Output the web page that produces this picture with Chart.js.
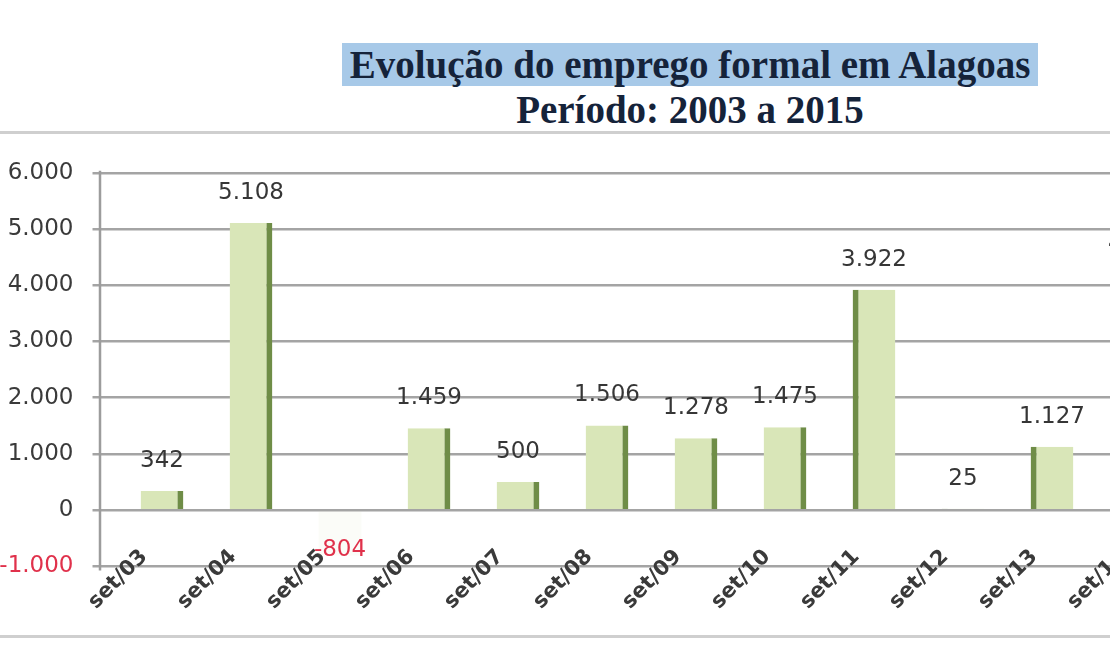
<!DOCTYPE html>
<html>
<head>
<meta charset="utf-8">
<script src="https://cdn.jsdelivr.net/npm/chart.js@4.4.0/dist/chart.umd.min.js"></script>
<style>
  html, body { margin:0; padding:0; width:1110px; height:650px; overflow:hidden; background:#ffffff; }
  .title { position:absolute; left:0; width:1380px; text-align:center;
           font-family:"Liberation Serif","DejaVu Serif",serif; font-weight:bold;
           font-size:39px; color:#15233a; white-space:nowrap; }
  #t1 { top:42px; line-height:46px; }
  #t1 span { background:#a7c9e8; padding:0 8px; }
  #t2 { top:88px; line-height:44px; }
  .frame { position:absolute; left:0; width:1110px; height:3px; background:#cfcfcf; }
  #wrap { position:absolute; left:-8px; top:140px; width:1220px; height:490px; }
</style>
</head>
<body>
<div class="frame" style="top:131px"></div>
<div class="frame" style="top:635px"></div>
<div class="title" id="t1"><span>Evolução do emprego formal em Alagoas</span></div>
<div class="title" id="t2">Período: 2003 a 2015</div>
<div id="wrap"><canvas id="c"></canvas></div>
<script>
// ---- data ----
const categories = ["set/03","set/04","set/05","set/06","set/07","set/08","set/09","set/10","set/11","set/12","set/13","set/14"];
const saldo      = [342, 5108, -804, 1459, 500, 1506, 1278, 1475, 3922, 25, 1127, 4200];
const yTicks     = [-1000, 0, 1000, 2000, 3000, 4000, 5000, 6000];

function fmt(v) {
  const neg = v < 0;
  let s = String(Math.abs(Math.round(v)));
  s = s.replace(/\B(?=(\d{3})+(?!\d))/g, ".");
  return (neg ? "-" : "") + s;
}

const FACE = "#d9e6b8";
const FACE_NEG = "rgba(217,230,184,0.10)";
const SIDE = "#6f8d47";

const decor = {
  id: "decor",
  beforeDatasetsDraw(chart) {
    const { ctx, chartArea } = chart;
    ctx.save();
    ctx.strokeStyle = "#9c9c9c";
    ctx.lineWidth = 2.5;
    const x = chartArea.left - 17.5;
    ctx.beginPath();
    ctx.moveTo(x, chartArea.top - 2);
    ctx.lineTo(x, chartArea.bottom + 4);
    ctx.stroke();
    ctx.restore();
  },
  afterDatasetsDraw(chart) {
    const { ctx } = chart;
    const meta = chart.getDatasetMeta(0);
    ctx.save();
    ctx.font = "23px 'DejaVu Sans', Verdana, sans-serif";
    ctx.textAlign = "center";
    ctx.textBaseline = "middle";
    meta.data.forEach((bar, i) => {
      const v = saldo[i];
      if (v >= 0) {
        ctx.fillStyle = "#363636";
        ctx.fillText(fmt(v), bar.x, bar.y - 30);
      } else {
        ctx.fillStyle = "#e0314b";
        ctx.fillText(fmt(v), bar.x, bar.y - 5);
      }
    });
    ctx.restore();
  }
};

new Chart(document.getElementById("c"), {
  type: "bar",
  data: {
    labels: categories,
    datasets: [{
      data: saldo,
      backgroundColor: (c) => (saldo[c.dataIndex] < 0 ? FACE_NEG : FACE),
      borderColor: SIDE,
      borderWidth: (c) => {
        if (saldo[c.dataIndex] < 0) return 0;
        return c.dataIndex >= 8 ? { left: 6, right: 0, top: 0, bottom: 0 }
                                : { left: 0, right: 6, top: 0, bottom: 0 };
      },
      borderSkipped: false,
      categoryPercentage: 1.0,
      barPercentage: 0.48
    }]
  },
  options: {
    responsive: true,
    maintainAspectRatio: false,
    animation: false,
    layout: { padding: { top: 31.6, right: 26.5, bottom: 0, left: 0 } },
    plugins: { legend: { display: false }, tooltip: { enabled: false }, title: { display: false } },
    scales: {
      x: {
        afterFit: (s) => { s.height = 63.6; },
        grid: { display: false },
        border: { display: false },
        ticks: {
          minRotation: 45, maxRotation: 45,
          mirror: true,
          padding: 4,
          color: "#3a3a3a",
          font: { family: "'DejaVu Sans', Verdana, sans-serif", size: 21, weight: "bold" }
        }
      },
      y: {
        min: -1000, max: 6000,
        afterFit: (s) => { s.width = 125.5; },
        afterBuildTicks: (s) => { s.ticks = yTicks.map(v => ({ value: v })); },
        border: { display: false },
        grid: { color: "#a4a4a4", lineWidth: 2.5, tickLength: 25, drawTicks: true, tickColor: "#a4a4a4" },
        ticks: {
          padding: 19,
          color: (c) => (c.tick && c.tick.value < 0 ? "#e0314b" : "#3a3a3a"),
          font: { family: "'DejaVu Sans', Verdana, sans-serif", size: 23 },
          callback: (v) => fmt(v)
        }
      }
    }
  },
  plugins: [decor]
});
</script>
</body>
</html>
